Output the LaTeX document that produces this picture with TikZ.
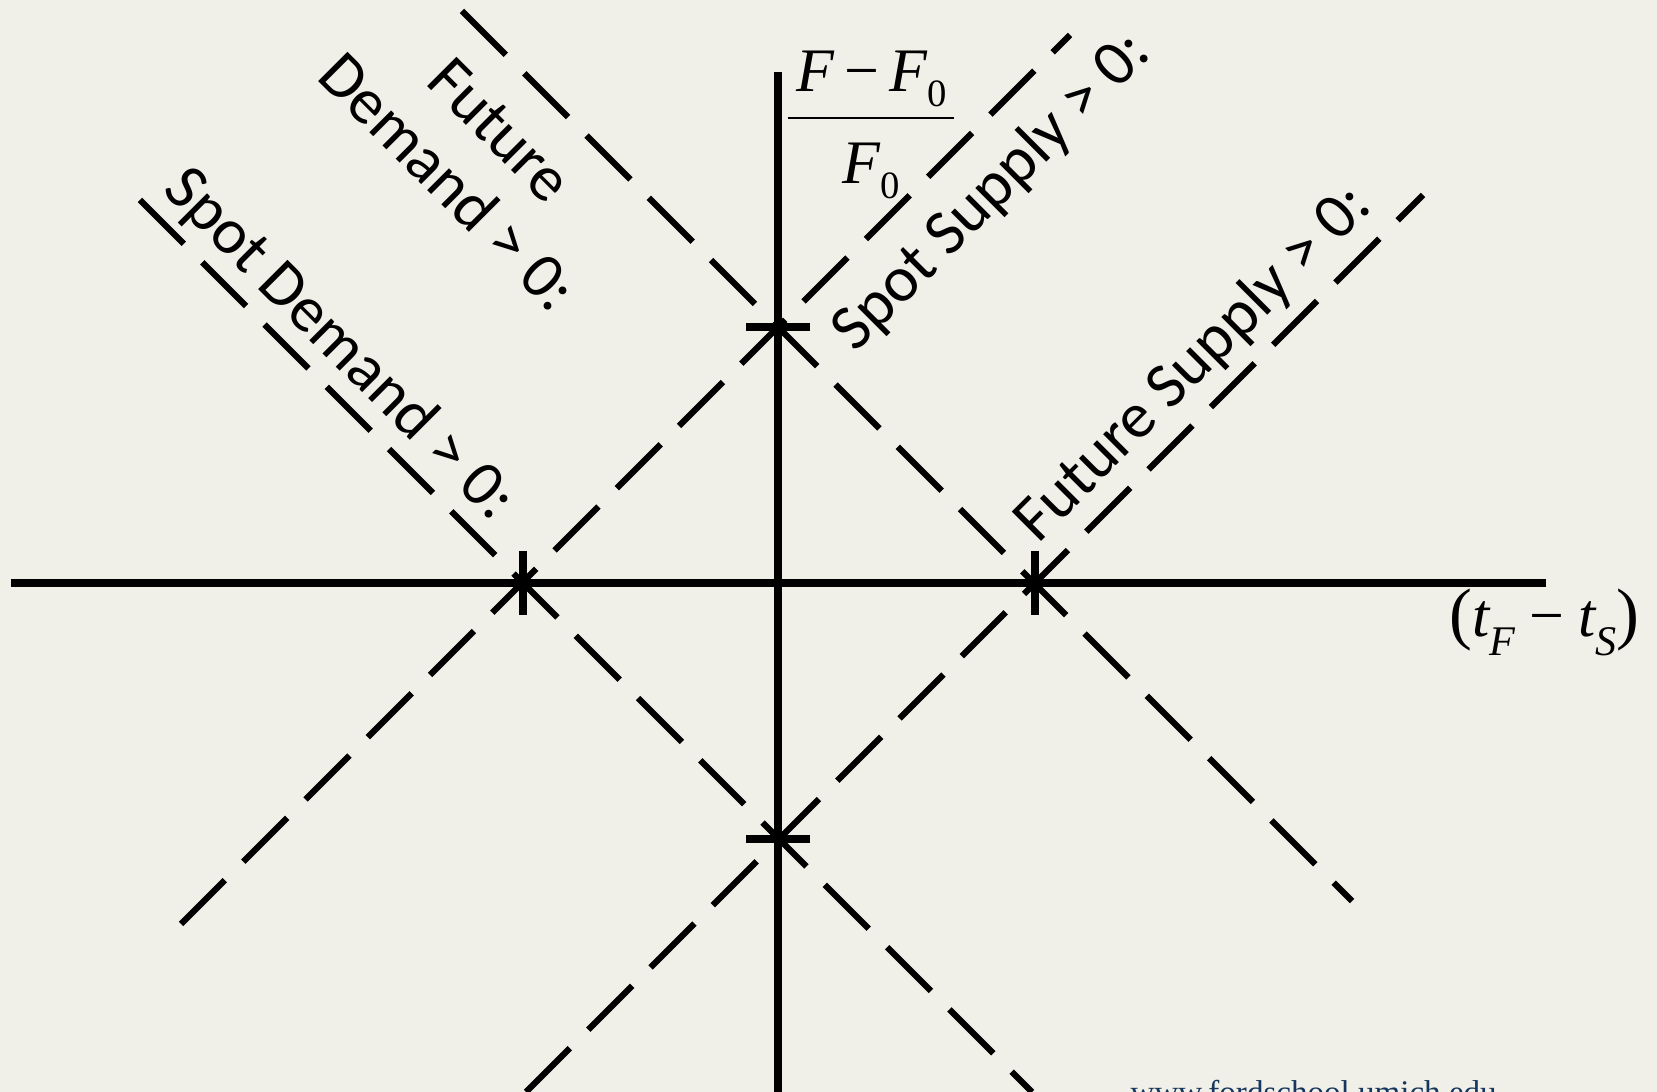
\documentclass[tikz,border=0pt]{standalone}
\usepackage[no-math]{fontspec}
\setmainfont{Carlito}
\newfontfamily\eqfont{Liberation Serif}
\usepackage{amsmath}
\usetikzlibrary{calc}

\definecolor{slidebg}{RGB}{240,239,232}
\definecolor{urlblue}{RGB}{23,54,93}

\tikzset{
  axis/.style={line width=2.2pt},
  curve/.style={line width=1.8pt, dash pattern=on 0.62cm off 0.26cm},
  tickmark/.style={line width=2pt},
  lbl/.style={font=\fontsize{18.4}{20.8}\selectfont, inner sep=0pt, align=center},
  eq/.style={font=\eqfont\fontsize{17.6}{20}\selectfont, inner sep=0pt},
}

\begin{document}
\begin{tikzpicture}[x=0.01cm, y=-0.01cm]
  % slide
  \fill[slidebg] (0,0) rectangle (1657,1092);
  \useasboundingbox (0,0) rectangle (1657,1092);
  \clip (0,0) rectangle (1657,1092);

  % crossing points and axis ends
  \coordinate (top) at (778,327);
  \coordinate (bot) at (778,839);
  \coordinate (lft) at (523,583);
  \coordinate (rgt) at (1035,583);
  \coordinate (xmin) at (11,583);
  \coordinate (xmax) at (1546,583);
  \coordinate (ymax) at (778,72);
  \coordinate (ymin) at (778,1092);

  % axes
  \draw[axis] (xmin) -- (xmax);
  \draw[axis, line width=2pt] (ymax) -- (ymin);

  % demand and supply lines
  \draw[curve] ($(lft)+(-383,-383)$) -- ($(lft)+(509,509)$);
  \draw[curve] ($(top)+(-316,-316)$) -- ($(top)+(574,574)$);
  \draw[curve] ($(lft)+(-342,341)$) -- ($(top)+(292,-292)$);
  \draw[curve] ($(bot)+(-252,253)$) -- ($(rgt)+(388,-388)$);

  % ticks
  \foreach \c in {top, bot}
    \draw[tickmark] ($(\c)+(-32,0)$) -- ($(\c)+(32,0)$);
  \foreach \c in {lft, rgt}
    \draw[tickmark] ($(\c)+(0,-32)$) -- ($(\c)+(0,32)$);

  % labels
  \node[lbl, rotate=-45] (sdem) at (339,345) {Spot Demand > 0:};
  \node[lbl, rotate=-45] (fdem) at (474,156) {Future\\Demand > 0:};
  \node[lbl, rotate=45] (ssup) at (992,192) {Spot Supply > 0:};
  \node[lbl, rotate=45] (fsup) at (1194,364) {Future Supply > 0:};

  \node[eq, anchor=base] (yfrac) at (871,133)
    {$\dfrac{\mbox{\kern2.4pt\itshape F\,\upshape−\,\itshape F\upshape\raisebox{-0.24em}{\fontsize{11}{11}\selectfont 0}\kern2pt}}{\rule{0pt}{0.92em}\mbox{\itshape F\upshape\raisebox{-0.24em}{\fontsize{11}{11}\selectfont 0}}}$};
  \node[eq, anchor=base east] (xlab) at (1640,637)
    {{\fontsize{19.5}{20}\selectfont(}\itshape t\raisebox{-0.3em}{\fontsize{12}{12}\selectfont F}\upshape\kern4pt−\kern4pt\itshape t\raisebox{-0.3em}{\fontsize{12}{12}\selectfont S}\upshape{\fontsize{19.5}{20}\selectfont)}};

  \node[font=\eqfont\fontsize{9.4}{11}\selectfont, text=urlblue, anchor=base west, inner sep=0pt] (url) at (1130,1104) {www.fordschool.umich.edu};
\end{tikzpicture}
\end{document}
